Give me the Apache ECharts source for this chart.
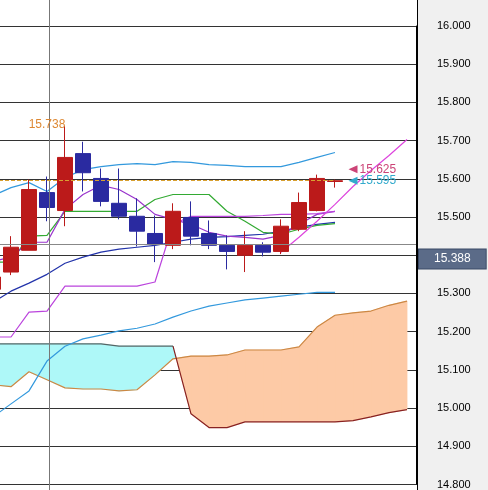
<!DOCTYPE html>
<html><head><meta charset="utf-8">
<script src="https://cdn.jsdelivr.net/npm/echarts@6/dist/echarts.min.js"></script>
<style>html,body{margin:0;padding:0;background:#fff;overflow:hidden}#c{width:504px;height:490px;position:relative;left:-16px}</style>
</head><body><div id="c"></div>
<script>
const categories = Array.from({length:24}, (_, i) => String(i));
// candles: [open, close, low, high]
const candles = [
 [15.311,15.343,15.303,15.350],[15.356,15.421,15.348,15.450],[15.413,15.572,15.413,15.598],
 [15.564,15.525,15.489,15.606],[15.517,15.656,15.476,15.738],[15.666,15.616,15.567,15.697],
 [15.601,15.541,15.528,15.627],[15.536,15.502,15.494,15.627],[15.502,15.463,15.423,15.549],
 [15.457,15.429,15.382,15.504],[15.426,15.515,15.416,15.536],[15.499,15.450,15.426,15.541],
 [15.457,15.426,15.416,15.491],[15.426,15.410,15.363,15.452],[15.400,15.426,15.356,15.463],
 [15.426,15.408,15.397,15.434],[15.410,15.476,15.403,15.494],[15.468,15.538,15.463,15.564],
 [15.517,15.601,15.515,15.611],[15.593,15.595,15.577,15.598]
];
const bbUpper = [15.556,15.577,15.590,15.567,15.603,15.624,15.632,15.637,15.640,15.637,15.645,15.643,15.637,15.635,15.632,15.632,15.632,15.643,15.656,15.669];
const midLine = [15.277,15.306,15.327,15.350,15.379,15.395,15.408,15.416,15.421,15.426,15.434,15.442,15.447,15.449,15.452,15.455,15.463,15.473,15.481,15.486];
const bbLower = [14.977,15.011,15.045,15.123,15.162,15.181,15.191,15.202,15.209,15.220,15.238,15.254,15.267,15.275,15.283,15.288,15.293,15.298,15.303,15.303];
const tenkan = [15.382,15.382,15.450,15.452,15.515,15.515,15.515,15.515,15.515,15.546,15.559,15.559,15.559,15.515,15.489,15.460,15.455,15.468,15.478,15.483];
const kijun = [15.384,15.395,15.434,15.434,15.520,15.559,15.583,15.572,15.546,15.507,15.494,15.481,15.460,15.450,15.447,15.442,15.452,15.481,15.507,15.515];
const chikou = [15.186,15.186,15.251,15.254,15.319,15.319,15.319,15.319,15.319,15.330,15.481,15.502,15.502,15.502,15.502,15.504,15.507,15.507,15.509,15.515];
const trendLine = [null,null,null,null,null,null,null,null,null,null,null,null,null,null,null,null,15.408,15.447,15.489,15.533,15.580,15.622,15.661,15.703];
const spanA = [15.061,15.056,15.095,15.074,15.053,15.050,15.050,15.045,15.048,15.087,15.129,15.136,15.136,15.139,15.152,15.152,15.152,15.160,15.212,15.243,15.249,15.254,15.269,15.280];
const spanB = [15.168,15.168,15.168,15.168,15.168,15.168,15.168,15.162,15.162,15.162,15.162,14.985,14.949,14.949,14.964,14.964,14.964,14.964,14.964,14.964,14.967,14.977,14.988,14.996];
const yTicks = {min:14.8, max:16.0, step:0.1};
const lastPrice = 15.388, refLine = 15.597, grayLine = 15.429, highLabel = 15.738, askLabel = 15.625, bidLabel = 15.595;

const spanBgray = spanB.map((v,i)=> i<=10 ? v : null);
const spanBred = spanB.map((v,i)=> i>=10 ? v : null);

function cloudItem(params, api){
  const i = api.value(0);
  if (i >= spanA.length-1) return;
  const a0=spanA[i], a1=spanA[i+1], b0=spanB[i], b1=spanB[i+1];
  const pA0=api.coord([i,a0]), pA1=api.coord([i+1,a1]), pB0=api.coord([i,b0]), pB1=api.coord([i+1,b1]);
  const col = (a,b)=> a>=b ? '#fdcaa6' : '#aef8f8';
  const d0=a0-b0, d1=a1-b1;
  const st = c => ({fill:c, stroke:c, lineWidth:0.8});
  if (d0*d1 < 0){
    const t = d0/(d0-d1);
    const px = [pA0[0]+(pA1[0]-pA0[0])*t, pA0[1]+(pA1[1]-pA0[1])*t];
    return {type:'group', children:[
      {type:'polygon', shape:{points:[pA0,px,pB0]}, style:st(col(a0,b0))},
      {type:'polygon', shape:{points:[px,pA1,pB1]}, style:st(col(a1,b1))}
    ]};
  }
  return {type:'polygon', shape:{points:[pA0,pA1,pB1,pB0]}, style:st(col(a0+a1,b0+b1))};
}

const chart = echarts.init(document.getElementById('c'), null, {renderer:'canvas'});
const ln = (name, data, color, w) => ({type:'line', name, data, symbol:'none', lineStyle:{color, width:w||1.2}, itemStyle:{color}, z:3, animation:false});
chart.setOption({
  animation:false,
  backgroundColor:'#ffffff',
  grid:{left:0, right:72, top:26, bottom:4},
  xAxis:{type:'category', data:categories, boundaryGap:true, axisLine:{show:false}, axisTick:{show:false}, axisLabel:{show:false}, splitLine:{show:false}},
  yAxis:{type:'value', position:'right', min:yTicks.min, max:yTicks.max, interval:yTicks.step,
    axisLine:{show:true, lineStyle:{color:'#000'}}, axisTick:{show:false},
    axisLabel:{formatter:v=>v.toFixed(3), color:'#000', fontSize:11, fontFamily:'Liberation Sans', margin:21},
    splitLine:{lineStyle:{color:'#333', width:1}}},
  graphic:[
    {type:'rect', shape:{x:434,y:0,width:70,height:490}, style:{fill:'#f0f0f0'}, z:-10, silent:true},
    {type:'line', shape:{x1:433.5,y1:0,x2:433.5,y2:490}, style:{stroke:'#000',lineWidth:1}, z:-5},
    {type:'line', shape:{x1:65.5,y1:0,x2:65.5,y2:490}, style:{stroke:'#777',lineWidth:1}, z:5}
  ],
  series:[
    {type:'custom', data:categories.map((c,i)=>[i]), renderItem:cloudItem, z:1, clip:true, silent:true},
    ln('spanA', spanA, '#cc8844'),
    ln('spanB1', spanBgray, '#556666'),
    ln('spanB2', spanBred, '#882222'),
    ln('bbUpper', bbUpper, '#3399dd'),
    ln('bbLower', bbLower, '#3399dd'),
    ln('mid', midLine, '#2233aa'),
    ln('tenkan', tenkan, '#33aa33'),
    ln('kijun', kijun, '#9933cc'),
    ln('chikou', chikou, '#bb44dd'),
    ln('trend', trendLine, '#dd44dd'),
    {type:'candlestick', data:candles, barWidth:16, z:4,
      itemStyle:{color:'#bb1a1a', color0:'#2a2aa0', borderColor:'#bb1a1a', borderColor0:'#2a2aa0', borderWidth:1},
      markLine:{symbol:'none', silent:true, animation:false, z:10, data:[
        [{coord:['0',refLine], lineStyle:{color:'#d8a030',width:1}}, {coord:['19',refLine]}],
        {yAxis:grayLine, lineStyle:{color:'#888',width:1,type:'solid'}, label:{show:false}},
        {yAxis:lastPrice, lineStyle:{color:'rgba(0,0,0,0)', width:1}, label:{show:true, position:'end', distance:3, formatter:'15.388', color:'#fff', fontSize:12, fontFamily:'Liberation Sans', backgroundColor:'#5b6b88', borderColor:'#3a4a66', borderWidth:1, padding:[4,15,3,15]}}
      ], label:{show:false}},
      markPoint:{animation:false, silent:true, data:[
        {coord:['4',highLabel], symbol:'circle', symbolSize:0, label:{show:true, formatter:'15.738', color:'#dd8833', fontSize:12, fontFamily:'Liberation Sans', position:'inside', offset:[-18,-1]}},
        {coord:['20',askLabel], symbol:'triangle', symbolRotate:90, symbolSize:[8,9], itemStyle:{color:'#cc4477'}, label:{show:true, formatter:'15.625', color:'#cc4477', fontSize:12, fontFamily:'Liberation Sans', position:'right', distance:2}},
        {coord:['20',bidLabel], symbol:'triangle', symbolRotate:90, symbolSize:[8,9], itemStyle:{color:'#33aacc'}, label:{show:true, formatter:'15.595', color:'#33aacc', fontSize:12, fontFamily:'Liberation Sans', position:'right', distance:2}}
      ]}
    }
  ]
});
</script></body></html>
